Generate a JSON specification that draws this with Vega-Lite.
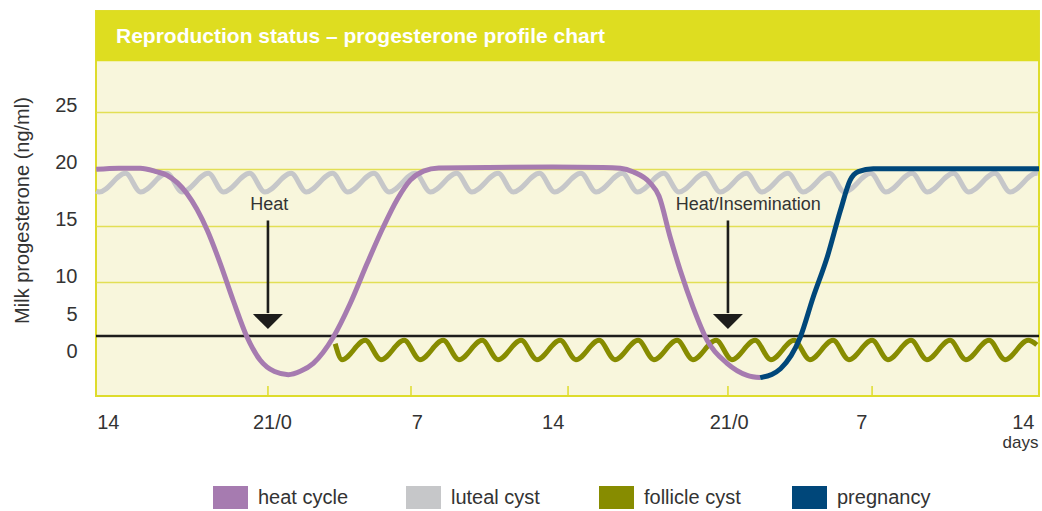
{
  "$schema": "https://vega.github.io/schema/vega-lite/v6.json",
  "autosize": {"type": "none"},
  "width": 943,
  "height": 385,
  "padding": {"left": 96, "top": 11, "right": 3, "bottom": 115},
  "background": "white",
  "config": {
    "font": "Liberation Sans",
    "view": {"fill": "#F8F6DC", "stroke": "#DEDC2C", "strokeWidth": 2},
    "legend": {
      "orient": "none",
      "legendX": 117,
      "legendY": 469,
      "direction": "horizontal",
      "columns": 4,
      "gridAlign": "all",
      "columnPadding": 51,
      "symbolType": "M-1,-0.657H1V0.657H-1Z",
      "symbolSize": 1225,
      "labelFontSize": 20,
      "labelOffset": 10,
      "labelColor": "#333333",
      "labelFont": "Liberation Sans",
      "labelLimit": 300
    }
  },
  "datasets": {
    "luteal": [
      {"t": -7.84, "v": 18.05, "series": "luteal cyst"},
      {"t": -7.70, "v": 17.95, "series": "luteal cyst"},
      {"t": -6.50, "v": 19.6, "series": "luteal cyst"},
      {"t": -5.81, "v": 17.95, "series": "luteal cyst"},
      {"t": -4.61, "v": 19.6, "series": "luteal cyst"},
      {"t": -3.92, "v": 17.95, "series": "luteal cyst"},
      {"t": -2.72, "v": 19.6, "series": "luteal cyst"},
      {"t": -2.03, "v": 17.95, "series": "luteal cyst"},
      {"t": -0.83, "v": 19.6, "series": "luteal cyst"},
      {"t": -0.14, "v": 17.95, "series": "luteal cyst"},
      {"t": 1.06, "v": 19.6, "series": "luteal cyst"},
      {"t": 1.75, "v": 17.95, "series": "luteal cyst"},
      {"t": 2.95, "v": 19.6, "series": "luteal cyst"},
      {"t": 3.64, "v": 17.95, "series": "luteal cyst"},
      {"t": 4.84, "v": 19.6, "series": "luteal cyst"},
      {"t": 5.53, "v": 17.95, "series": "luteal cyst"},
      {"t": 6.73, "v": 19.6, "series": "luteal cyst"},
      {"t": 7.42, "v": 17.95, "series": "luteal cyst"},
      {"t": 8.62, "v": 19.6, "series": "luteal cyst"},
      {"t": 9.31, "v": 17.95, "series": "luteal cyst"},
      {"t": 10.51, "v": 19.6, "series": "luteal cyst"},
      {"t": 11.20, "v": 17.95, "series": "luteal cyst"},
      {"t": 12.40, "v": 19.6, "series": "luteal cyst"},
      {"t": 13.09, "v": 17.95, "series": "luteal cyst"},
      {"t": 14.29, "v": 19.6, "series": "luteal cyst"},
      {"t": 14.98, "v": 17.95, "series": "luteal cyst"},
      {"t": 16.18, "v": 19.6, "series": "luteal cyst"},
      {"t": 16.87, "v": 17.95, "series": "luteal cyst"},
      {"t": 18.07, "v": 19.6, "series": "luteal cyst"},
      {"t": 18.76, "v": 17.95, "series": "luteal cyst"},
      {"t": 19.96, "v": 19.6, "series": "luteal cyst"},
      {"t": 20.65, "v": 17.95, "series": "luteal cyst"},
      {"t": 21.85, "v": 19.6, "series": "luteal cyst"},
      {"t": 22.54, "v": 17.95, "series": "luteal cyst"},
      {"t": 23.74, "v": 19.6, "series": "luteal cyst"},
      {"t": 24.43, "v": 17.95, "series": "luteal cyst"},
      {"t": 25.63, "v": 19.6, "series": "luteal cyst"},
      {"t": 26.32, "v": 17.95, "series": "luteal cyst"},
      {"t": 27.52, "v": 19.6, "series": "luteal cyst"},
      {"t": 28.21, "v": 17.95, "series": "luteal cyst"},
      {"t": 29.41, "v": 19.6, "series": "luteal cyst"},
      {"t": 30.10, "v": 17.95, "series": "luteal cyst"},
      {"t": 31.30, "v": 19.6, "series": "luteal cyst"},
      {"t": 31.99, "v": 17.95, "series": "luteal cyst"},
      {"t": 33.19, "v": 19.6, "series": "luteal cyst"},
      {"t": 33.88, "v": 17.95, "series": "luteal cyst"},
      {"t": 35.08, "v": 19.6, "series": "luteal cyst"},
      {"t": 35.15, "v": 19.58, "series": "luteal cyst"}
    ],
    "follicle": [
      {"t": 3.07, "v": 4.6, "series": "follicle cyst"},
      {"t": 3.38, "v": 3.2, "series": "follicle cyst"},
      {"t": 4.44, "v": 4.9, "series": "follicle cyst"},
      {"t": 5.16, "v": 3.2, "series": "follicle cyst"},
      {"t": 6.22, "v": 4.9, "series": "follicle cyst"},
      {"t": 6.94, "v": 3.2, "series": "follicle cyst"},
      {"t": 8.00, "v": 4.9, "series": "follicle cyst"},
      {"t": 8.72, "v": 3.2, "series": "follicle cyst"},
      {"t": 9.78, "v": 4.9, "series": "follicle cyst"},
      {"t": 10.50, "v": 3.2, "series": "follicle cyst"},
      {"t": 11.56, "v": 4.9, "series": "follicle cyst"},
      {"t": 12.28, "v": 3.2, "series": "follicle cyst"},
      {"t": 13.34, "v": 4.9, "series": "follicle cyst"},
      {"t": 14.06, "v": 3.2, "series": "follicle cyst"},
      {"t": 15.12, "v": 4.9, "series": "follicle cyst"},
      {"t": 15.84, "v": 3.2, "series": "follicle cyst"},
      {"t": 16.90, "v": 4.9, "series": "follicle cyst"},
      {"t": 17.62, "v": 3.2, "series": "follicle cyst"},
      {"t": 18.68, "v": 4.9, "series": "follicle cyst"},
      {"t": 19.40, "v": 3.2, "series": "follicle cyst"},
      {"t": 20.46, "v": 4.9, "series": "follicle cyst"},
      {"t": 21.18, "v": 3.2, "series": "follicle cyst"},
      {"t": 22.24, "v": 4.9, "series": "follicle cyst"},
      {"t": 22.96, "v": 3.2, "series": "follicle cyst"},
      {"t": 24.02, "v": 4.9, "series": "follicle cyst"},
      {"t": 24.74, "v": 3.2, "series": "follicle cyst"},
      {"t": 25.80, "v": 4.9, "series": "follicle cyst"},
      {"t": 26.52, "v": 3.2, "series": "follicle cyst"},
      {"t": 27.58, "v": 4.9, "series": "follicle cyst"},
      {"t": 28.30, "v": 3.2, "series": "follicle cyst"},
      {"t": 29.36, "v": 4.9, "series": "follicle cyst"},
      {"t": 30.08, "v": 3.2, "series": "follicle cyst"},
      {"t": 31.14, "v": 4.9, "series": "follicle cyst"},
      {"t": 31.86, "v": 3.2, "series": "follicle cyst"},
      {"t": 32.92, "v": 4.9, "series": "follicle cyst"},
      {"t": 33.65, "v": 3.2, "series": "follicle cyst"},
      {"t": 34.71, "v": 4.9, "series": "follicle cyst"},
      {"t": 35.10, "v": 4.5, "series": "follicle cyst"}
    ],
    "heat": [
      {"t": -7.84, "v": 19.95, "series": "heat cycle"},
      {"t": -6.8, "v": 20.05, "series": "heat cycle"},
      {"t": -5.83, "v": 20.05, "series": "heat cycle"},
      {"t": -5.1, "v": 19.75, "series": "heat cycle"},
      {"t": -4.61, "v": 19.43, "series": "heat cycle"},
      {"t": -3.70, "v": 17.82, "series": "heat cycle"},
      {"t": -2.77, "v": 14.59, "series": "heat cycle"},
      {"t": -2.18, "v": 11.68, "series": "heat cycle"},
      {"t": -1.59, "v": 8.43, "series": "heat cycle"},
      {"t": -0.95, "v": 5.17, "series": "heat cycle"},
      {"t": -0.35, "v": 3.14, "series": "heat cycle"},
      {"t": 0.3, "v": 2.15, "series": "heat cycle"},
      {"t": 0.93, "v": 1.88, "series": "heat cycle"},
      {"t": 1.5, "v": 2.2, "series": "heat cycle"},
      {"t": 2.07, "v": 2.88, "series": "heat cycle"},
      {"t": 2.98, "v": 5.17, "series": "heat cycle"},
      {"t": 3.76, "v": 8.16, "series": "heat cycle"},
      {"t": 4.53, "v": 11.68, "series": "heat cycle"},
      {"t": 5.26, "v": 14.85, "series": "heat cycle"},
      {"t": 5.9, "v": 17.3, "series": "heat cycle"},
      {"t": 6.5, "v": 19.0, "series": "heat cycle"},
      {"t": 7.1, "v": 19.8, "series": "heat cycle"},
      {"t": 7.8, "v": 20.08, "series": "heat cycle"},
      {"t": 10.0, "v": 20.12, "series": "heat cycle"},
      {"t": 13.0, "v": 20.15, "series": "heat cycle"},
      {"t": 15.3, "v": 20.12, "series": "heat cycle"},
      {"t": 16.09, "v": 20.05, "series": "heat cycle"},
      {"t": 16.69, "v": 19.72, "series": "heat cycle"},
      {"t": 17.45, "v": 18.75, "series": "heat cycle"},
      {"t": 17.85, "v": 17.6, "series": "heat cycle"},
      {"t": 18.36, "v": 14.0, "series": "heat cycle"},
      {"t": 18.82, "v": 11.07, "series": "heat cycle"},
      {"t": 19.41, "v": 7.81, "series": "heat cycle"},
      {"t": 20.05, "v": 4.90, "series": "heat cycle"},
      {"t": 20.96, "v": 2.88, "series": "heat cycle"},
      {"t": 21.88, "v": 1.82, "series": "heat cycle"},
      {"t": 22.47, "v": 1.62, "series": "heat cycle"}
    ],
    "pregnancy": [
      {"t": 22.47, "v": 1.62, "series": "pregnancy"},
      {"t": 23.0, "v": 1.9, "series": "pregnancy"},
      {"t": 23.4, "v": 2.4, "series": "pregnancy"},
      {"t": 24.3, "v": 5.17, "series": "pregnancy"},
      {"t": 24.89, "v": 8.69, "series": "pregnancy"},
      {"t": 25.53, "v": 12.21, "series": "pregnancy"},
      {"t": 26.13, "v": 16.3, "series": "pregnancy"},
      {"t": 26.58, "v": 19.0, "series": "pregnancy"},
      {"t": 26.95, "v": 19.75, "series": "pregnancy"},
      {"t": 27.63, "v": 20.0, "series": "pregnancy"},
      {"t": 35.2, "v": 20.0, "series": "pregnancy"}
    ],
    "events": [
      {"t": 0, "textT": 0.06, "label": "Heat"},
      {"t": 21, "textT": 21.93, "label": "Heat/Insemination"}
    ],
    "ticks": [
      {"t": 0}, {"t": 6.53}, {"t": 13.7}, {"t": 21}, {"t": 27.58}
    ]
  },
  "layer": [
    {
      "data": {"values": [{}]},
      "mark": {"type": "rect", "color": "#DEDD20"},
      "encoding": {
        "x": {"datum": -7.85, "type": "quantitative", "scale": {"domain": [-7.85, 35.2], "nice": false, "zero": false}},
        "x2": {"datum": 35.2},
        "y": {"datum": 29.46, "type": "quantitative", "scale": {"domain": [0, 33.89], "nice": false}},
        "y2": {"datum": 33.89},
        "color": {"value": "#DEDD20"}
      }
    },
    {
      "data": {"values": [{"title": "Reproduction status – progesterone profile chart"}]},
      "mark": {"type": "text", "align": "left", "baseline": "middle", "dx": 20, "font": "Liberation Sans", "fontWeight": "bold", "fontSize": 21},
      "encoding": {
        "x": {"datum": -7.85, "type": "quantitative", "scale": {"domain": [-7.85, 35.2], "nice": false, "zero": false}},
        "y": {"datum": 31.6, "type": "quantitative", "scale": {"domain": [0, 33.89], "nice": false}},
        "text": {"field": "title"},
        "color": {"value": "#FFFFFF"}
      }
    },
    {
      "data": {"values": [{}]},
      "mark": {"type": "rule", "strokeWidth": 2.6},
      "encoding": {
        "x": {"datum": -7.85, "type": "quantitative", "scale": {"domain": [-7.85, 35.2], "nice": false, "zero": false}},
        "x2": {"datum": 35.2},
        "y": {"datum": 5.28, "type": "quantitative", "scale": {"domain": [0, 33.89], "nice": false}},
        "color": {"value": "#1D1D1B"}
      }
    },
    {
      "data": {"name": "ticks"},
      "mark": {"type": "rule", "strokeWidth": 1.5},
      "encoding": {
        "x": {"field": "t", "type": "quantitative", "scale": {"domain": [-7.85, 35.2], "nice": false, "zero": false}},
        "y": {"datum": 0, "type": "quantitative", "scale": {"domain": [0, 33.89], "nice": false}},
        "y2": {"datum": 0.88},
        "color": {"value": "#DEDC2C"}
      }
    },
    {
      "data": {"name": "luteal"},
      "mark": {"type": "line", "interpolate": "monotone", "strokeWidth": 5},
      "encoding": {
        "x": {
          "field": "t",
          "type": "quantitative",
          "scale": {"domain": [-7.85, 35.2], "nice": false, "zero": false},
          "axis": {
            "values": [-7.31, 0.18, 6.8, 13.0, 21.03, 27.09, 34.46],
            "labelExpr": "datum.value < -5 ? '14' : datum.value < 3 ? '21/0' : datum.value < 10 ? '7' : datum.value < 17 ? '14' : datum.value < 24 ? '21/0' : datum.value < 31 ? '7' : '14'",
            "domain": false,
            "ticks": false,
            "grid": false,
            "labelPadding": 16,
            "labelFontSize": 20,
            "labelColor": "#333333",
            "labelFont": "Liberation Sans",
            "labelFlush": false,
            "labelOverlap": false,
            "labelBound": false,
            "title": "days",
            "titleFont": "Liberation Sans",
            "titleFontSize": 17,
            "titleFontWeight": "normal",
            "titleColor": "#333333",
            "titleAnchor": "end",
            "titleAlign": "right",
            "titleX": 942,
            "titleY": 51,
            "titleBaseline": "alphabetic"
          }
        },
        "y": {
          "field": "v",
          "type": "quantitative",
          "scale": {"domain": [0, 33.89], "nice": false},
          "axis": {
            "values": [25, 20, 15, 10, 5, 0],
            "domain": false,
            "ticks": false,
            "grid": true,
            "gridColor": "#E2DF55",
            "gridWidth": 1.5,
            "gridOpacity": {"condition": {"test": "datum.value >= 10", "value": 1}, "value": 0},
            "labelPadding": 19,
            "labelFontSize": 20,
            "labelColor": "#333333",
            "labelFont": "Liberation Sans",
            "labelOffset": {"condition": [{"test": "datum.value == 5", "value": -25}, {"test": "datum.value == 0", "value": -45}], "value": -6},
            "labelOverlap": false,
            "title": "Milk progesterone (ng/ml)",
            "titleFont": "Liberation Sans",
            "titleFontSize": 20,
            "titleFontWeight": "normal",
            "titleColor": "#333333",
            "titleAngle": -90,
            "titleAlign": "center",
            "titleBaseline": "alphabetic",
            "titleX": -68,
            "titleY": 199
          }
        },
        "color": {
          "field": "series",
          "type": "nominal",
          "scale": {
            "domain": ["heat cycle", "luteal cyst", "follicle cyst", "pregnancy"],
            "range": ["#A67BB0", "#C6C7C9", "#878C00", "#00477A"]
          },
          "legend": {
            "title": null,
            "encode": {
              "symbols": {
                "update": {
                  "fill": {"scale": "color", "field": "value"},
                  "strokeWidth": {"value": 0},
                  "opacity": {"value": 1}
                }
              }
            }
          }
        }
      }
    },
    {
      "data": {"name": "follicle"},
      "mark": {"type": "line", "interpolate": "monotone", "strokeWidth": 5},
      "encoding": {
        "x": {"field": "t", "type": "quantitative", "scale": {"domain": [-7.85, 35.2], "nice": false, "zero": false}},
        "y": {"field": "v", "type": "quantitative", "scale": {"domain": [0, 33.89], "nice": false}},
        "color": {"field": "series", "type": "nominal"}
      }
    },
    {
      "data": {"name": "heat"},
      "mark": {"type": "line", "interpolate": "monotone", "strokeWidth": 5},
      "encoding": {
        "x": {"field": "t", "type": "quantitative", "scale": {"domain": [-7.85, 35.2], "nice": false, "zero": false}},
        "y": {"field": "v", "type": "quantitative", "scale": {"domain": [0, 33.89], "nice": false}},
        "color": {"field": "series", "type": "nominal"}
      }
    },
    {
      "data": {"name": "pregnancy"},
      "mark": {"type": "line", "interpolate": "monotone", "strokeWidth": 5},
      "encoding": {
        "x": {"field": "t", "type": "quantitative", "scale": {"domain": [-7.85, 35.2], "nice": false, "zero": false}},
        "y": {"field": "v", "type": "quantitative", "scale": {"domain": [0, 33.89], "nice": false}},
        "color": {"field": "series", "type": "nominal"}
      }
    },
    {
      "data": {"name": "events"},
      "mark": {"type": "rule", "strokeWidth": 2.6},
      "encoding": {
        "x": {"field": "t", "type": "quantitative", "scale": {"domain": [-7.85, 35.2], "nice": false, "zero": false}},
        "y": {"datum": 15.45, "type": "quantitative", "scale": {"domain": [0, 33.89], "nice": false}},
        "y2": {"datum": 7.3},
        "color": {"value": "#1D1D1B"}
      }
    },
    {
      "data": {"name": "events"},
      "mark": {"type": "point", "shape": "M-1,-0.5H1L0,0.5Z", "filled": true, "opacity": 1, "size": 900, "strokeWidth": 0},
      "encoding": {
        "x": {"field": "t", "type": "quantitative", "scale": {"domain": [-7.85, 35.2], "nice": false, "zero": false}},
        "y": {"datum": 6.55, "type": "quantitative", "scale": {"domain": [0, 33.89], "nice": false}},
        "color": {"value": "#1D1D1B"}
      }
    },
    {
      "data": {"name": "events"},
      "mark": {"type": "text", "align": "center", "baseline": "middle", "font": "Liberation Sans", "fontSize": 18},
      "encoding": {
        "x": {"field": "textT", "type": "quantitative", "scale": {"domain": [-7.85, 35.2], "nice": false, "zero": false}},
        "y": {"datum": 16.85, "type": "quantitative", "scale": {"domain": [0, 33.89], "nice": false}},
        "text": {"field": "label"},
        "color": {"value": "#333333"}
      }
    }
  ]
}
